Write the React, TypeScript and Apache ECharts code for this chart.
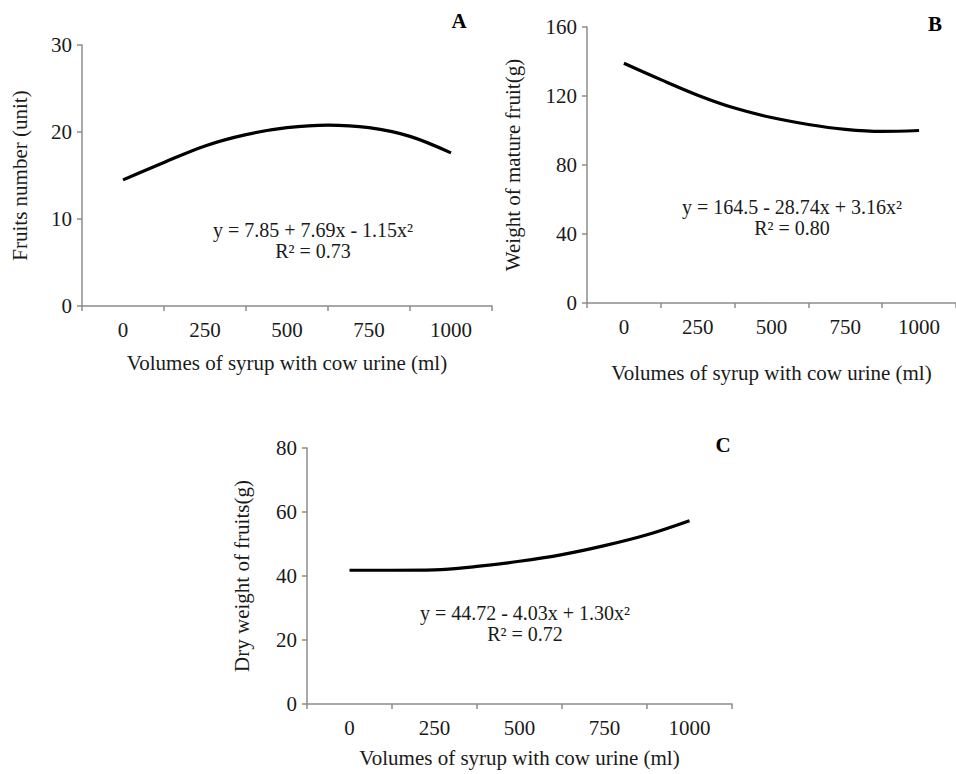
import React, { useEffect, useRef } from "react";
import * as echarts from "echarts";

const categories = ["0", "250", "500", "750", "1000"];
// curve samples at every 125 ml
const sampleX = [0, 125, 250, 375, 500, 625, 750, 875, 1000];
const fruitsNumber = [14.5, 16.5, 18.4, 19.7, 20.5, 20.8, 20.5, 19.5, 17.6];
const matureWeight = [139, 129.5, 120.5, 113, 107.5, 103.5, 100.7, 99.5, 100];
const dryWeight = [41.8, 41.8, 41.9, 43.0, 44.6, 46.7, 49.5, 52.9, 57.3];

const yMaxA = 30, yIntA = 10;
const yMaxB = 160, yIntB = 40;
const yMaxC = 80, yIntC = 20;

const xName = "Volumes of syrup with cow urine (ml)";
const yNameA = "Fruits number (unit)";
const yNameB = "Weight of mature fruit(g)";
const yNameC = "Dry weight of fruits(g)";

const eqA = ["y = 7.85 + 7.69x - 1.15x²", "R² = 0.73"];
const eqB = ["y = 164.5 - 28.74x + 3.16x²", "R² = 0.80"];
const eqC = ["y = 44.72 - 4.03x + 1.30x²", "R² = 0.72"];

const FONT = "Liberation Serif";
const FS = 21;
const TXT = "#1a1a1a";
const AXIS = "#8c8c8c";

export default function App() {
  const ref = useRef<HTMLDivElement>(null);
  useEffect(() => {
    if (!ref.current) return;
    const chart = echarts.init(ref.current, null, { renderer: "svg" });
    const grids = [
      { left: 82, top: 45, width: 410, height: 261 },
      { left: 587, top: 27, width: 373, height: 276 },
      { left: 307, top: 448, width: 425, height: 256 },
    ];
    const xGaps = [46, 59, 43];
    const yGaps = [52, 64, 55];
    const yNames = [yNameA, yNameB, yNameC];
    const yMax = [yMaxA, yMaxB, yMaxC];
    const yInt = [yIntA, yIntB, yIntC];
    const data = [fruitsNumber, matureWeight, dryWeight];
    const textStyle = { fontFamily: FONT, fontSize: FS, color: TXT };

    const xAxis: any[] = grids.map((_, i) => ({
      type: "category",
      gridIndex: i,
      data: categories,
      boundaryGap: true,
      axisLine: { show: true, onZero: false, lineStyle: { color: AXIS, width: 1.5 } },
      axisTick: { show: true, length: 5, inside: false, lineStyle: { color: AXIS, width: 1.5 } },
      axisLabel: { ...textStyle, margin: 13 },
      name: xName,
      nameLocation: "middle",
      nameGap: xGaps[i],
      nameTextStyle: { ...textStyle },
      splitLine: { show: false },
    }));
    grids.forEach((_, i) => {
      xAxis.push({
        type: "value",
        gridIndex: i,
        min: -125,
        max: 1125,
        show: false,
        axisLine: { show: false, onZero: false },
        splitLine: { show: false },
      });
    });
    const yAxis = grids.map((_, i) => ({
      type: "value",
      gridIndex: i,
      min: 0,
      max: yMax[i],
      interval: yInt[i],
      axisLine: { show: true, onZero: false, lineStyle: { color: AXIS, width: 1.5 } },
      axisTick: { show: true, length: 5, lineStyle: { color: AXIS, width: 1.5 } },
      axisLabel: { ...textStyle, margin: 10 },
      splitLine: { show: false },
      name: yNames[i],
      nameLocation: "middle",
      nameRotate: 90,
      nameGap: yGaps[i],
      nameTextStyle: { ...textStyle },
    }));
    const series = data.map((d, i) => ({
      type: "line",
      xAxisIndex: 3 + i,
      yAxisIndex: i,
      data: d.map((v, k) => [sampleX[k], v]),
      smooth: 0.35,
      showSymbol: false,
      symbol: "none",
      lineStyle: { color: "#000", width: 3.2 },
    }));
    const oneText = (t: string, cx: number, cy: number) => ({
      type: "text",
      x: cx,
      y: cy,
      style: {
        text: t,
        fontFamily: FONT,
        fontSize: 20,
        fill: TXT,
        align: "center",
        verticalAlign: "middle",
      },
    });
    const eqText = (lines: string[], cx: number, cy: number) => [
      oneText(lines[0], cx, cy),
      oneText(lines[1], cx, cy + 21),
    ];
    const letter = (t: string, x: number, y: number) => ({
      type: "text",
      x,
      y,
      style: {
        text: t,
        fontFamily: FONT,
        fontSize: 21,
        fontWeight: "bold",
        fill: "#000",
        align: "center",
        verticalAlign: "middle",
      },
    });
    chart.setOption({
      animation: false,
      backgroundColor: "#fff",
      grid: grids,
      xAxis,
      yAxis,
      series,
      graphic: [
        ...eqText(eqA, 313, 230),
        ...eqText(eqB, 792, 207),
        ...eqText(eqC, 525, 613),
        letter("A", 459, 21),
        letter("B", 935, 24),
        letter("C", 723, 445),
      ],
    });
    return () => chart.dispose();
  }, []);
  return (
    <div
      ref={ref}
      style={{ position: "fixed", left: 0, top: 0, width: 956, height: 774, background: "#fff" }}
    />
  );
}
